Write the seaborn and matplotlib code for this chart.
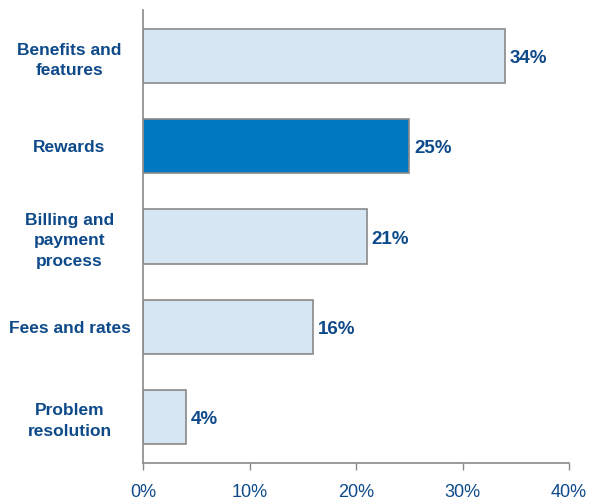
import matplotlib
matplotlib.use("Agg")
import pandas as pd
import numpy as np
import seaborn as sns
import matplotlib.pyplot as plt

categories = ["Benefits and\nfeatures", "Rewards", "Billing and\npayment\nprocess",
              "Fees and rates", "Problem\nresolution"]
values = [34, 25, 21, 16, 4]
highlight = "Rewards"
xticks = [0, 10, 20, 30, 40]

light = "#D7E6F3"
dark = "#0077C1"
text_col = "#0E4A8A"
edge = "#8A8A8A"

sns.set_style("white")
plt.rcParams["font.family"] = ["Liberation Sans", "DejaVu Sans"]

df = pd.DataFrame({"category": categories, "value": values})
palette = {c: (dark if c == highlight else light) for c in categories}

fig = plt.figure(figsize=(5.89, 5.0), dpi=100)
ax = fig.add_axes([0.243, 0.074, 0.723, 0.906])
sns.barplot(data=df, x="value", y="category", hue="category", palette=palette,
            legend=False, width=0.6, edgecolor=edge, linewidth=1.2,
            saturation=1, ax=ax)

for i, v in enumerate(values):
    ax.text(v + 0.45, i + 0.03, f"{v}%", va="center", ha="left", fontsize=13.5,
            fontweight="bold", color=text_col)

ax.set_xlim(0, 40)
ax.set_ylim(4.51, -0.51)
ax.set_xticks(xticks)
ax.set_xticklabels([f"{t}%" for t in xticks], fontsize=13, color=text_col)
ax.set_yticks(range(len(categories)))
ax.set_yticklabels(categories, fontsize=12.5, fontweight="bold", color=text_col,
                   ha="center", linespacing=1.45)
ax.tick_params(axis="y", length=0, pad=53)
ax.tick_params(axis="x", length=5, width=1, color=edge, direction="out", pad=10)
ax.xaxis.set_ticks_position("bottom")
ax.set_xlabel("")
ax.set_ylabel("")
for s in ["top", "right"]:
    ax.spines[s].set_visible(False)
for s in ["left", "bottom"]:
    ax.spines[s].set_color(edge)
    ax.spines[s].set_linewidth(1.2)

fig.savefig("out.png", dpi=100)
